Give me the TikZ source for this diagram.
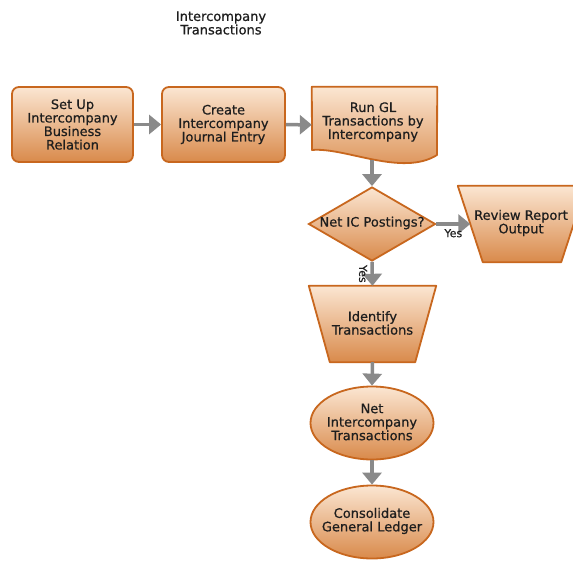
\documentclass[tikz,border=0pt]{standalone}
\usepackage{fontspec}
\setmainfont[FakeBold=0.6]{DejaVu Sans}
\usetikzlibrary{shapes.geometric,arrows.meta}
\definecolor{boxtop}{HTML}{FBE6D2}
\definecolor{boxbot}{HTML}{D98A4B}
\definecolor{boxline}{HTML}{C8671E}
\definecolor{arrgray}{HTML}{8A8A8A}
\definecolor{txtcol}{HTML}{1E1E1E}
\tikzset{
  stage/.style={draw=boxline, line width=1.8pt, top color=boxtop, bottom color=boxbot,
    text=txtcol, align=center, font=\fontsize{13}{13.5}\selectfont, inner sep=0pt},
  procbox/.style={stage, rectangle, rounded corners=7pt},
  shell/.style={rectangle, inner sep=0pt, text=txtcol, align=center, font=\fontsize{13}{13.5}\selectfont},
  fillpath/.style={draw=boxline, line width=1.8pt, top color=boxtop, bottom color=boxbot, line join=round},
  oval/.style={stage, ellipse, minimum width=123pt, minimum height=73pt},
  dia/.style={stage, diamond, minimum width=127pt, minimum height=74pt},
  plain/.style={text=txtcol, align=center, font=\fontsize{13}{13.5}\selectfont, inner sep=0pt},
  conn/.style={draw=arrgray, line width=3.5pt, -{Triangle[length=12pt,width=19pt]}},
  yestxt/.style={text=txtcol, font=\fontsize{11}{12}\selectfont},
}
\begin{document}
\begin{tikzpicture}[x=1pt,y=-1pt]
\useasboundingbox (0,0) rectangle (573,560);
\fill[white] (0,0) rectangle (573,560);

\node[plain] (title) at (221,23) {Intercompany\\Transactions};

\node[procbox, minimum width=121pt, minimum height=75pt] (b1) at (72.5,124.5)
  {Set Up\\Intercompany\\Business\\Relation};
\node[procbox, minimum width=123pt, minimum height=75pt] (b2) at (223.5,124.5)
  {Create\\Intercompany\\Journal Entry};

% document shape
\node[shell, minimum width=125pt, minimum height=76pt] (doc) at (374.5,125) {};
\path[fillpath]
  (doc.north west) -- (doc.north east) -- (437,155)
  .. controls (402,177) and (345,147) .. (312,150) -- cycle;
\node[plain] (doctxt) at (373,122) {Run GL\\Transactions by\\Intercompany};
\coordinate (docb) at (372,160);

\node[dia] (d) at (372,224) {};
\node[plain] (dtxt) at (372,223) {Net IC Postings?};

% Review Report Output (manual operation trapezoid)
\node[shell, minimum width=103pt, minimum height=76pt] (rev) at (522,224) {};
\path[fillpath]
  ([xshift=-12.5pt]rev.north west) -- ([xshift=12.5pt]rev.north east)
  -- ([xshift=-12.5pt]rev.south east) -- ([xshift=12.5pt]rev.south west) -- cycle;
\node[plain] (revtxt) at (521,223) {Review Report\\Output};

% Identify Transactions
\node[shell, minimum width=106pt, minimum height=76pt] (idt) at (372.5,324) {};
\path[fillpath]
  ([xshift=-10.5pt]idt.north west) -- ([xshift=10.5pt]idt.north east)
  -- ([xshift=-10.5pt]idt.south east) -- ([xshift=10.5pt]idt.south west) -- cycle;
\node[plain] (idttxt) at (372.5,323) {Identify\\Transactions};

\node[oval] (e1) at (372,423) {};
\node[plain] (e1txt) at (372,422) {Net\\Intercompany\\Transactions};
\node[oval] (e2) at (372,522) {};
\node[plain] (e2txt) at (372,521) {Consolidate\\General Ledger};

\draw[conn] (b1) -- (b2);
\draw[conn] (b2) -- (doc);
\draw[conn] (docb) -- (d.north);
\draw[conn] (d.east) -- (rev.west) node[yestxt, midway, below] {Yes};
\draw[conn] (d.south) -- (idt.north) node[yestxt, midway, anchor=north, rotate=-90] {Yes};
\draw[conn] (idt.south) -- (e1.north);
\draw[conn] (e1.south) -- (e2.north);
\end{tikzpicture}
\end{document}
